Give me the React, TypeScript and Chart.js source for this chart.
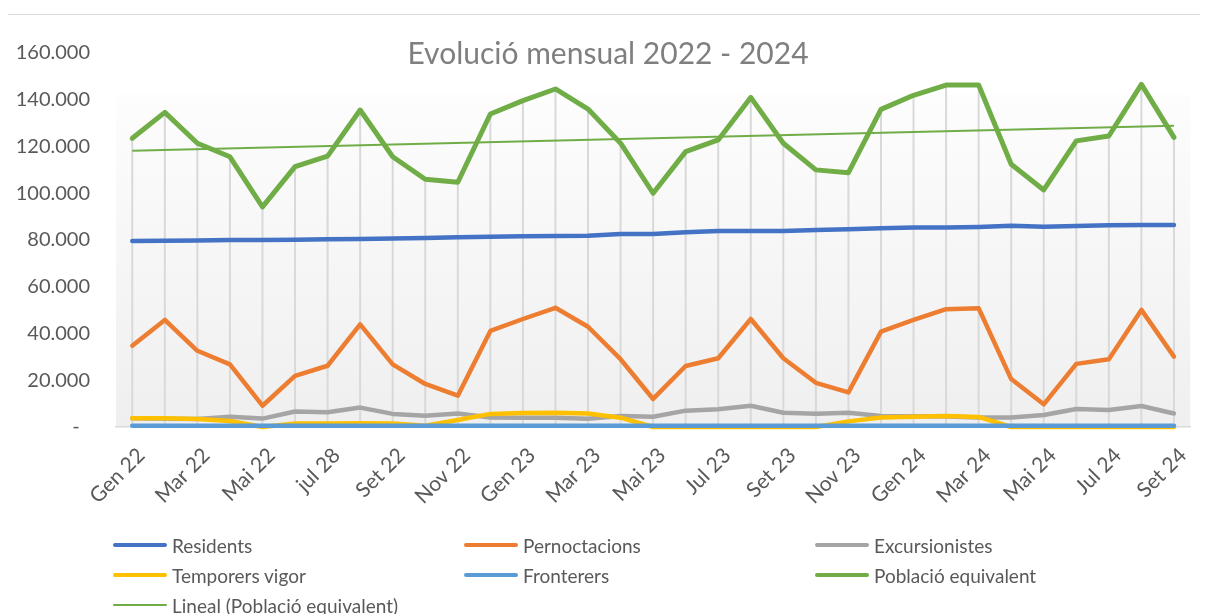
import React, { useEffect, useRef } from "react";
import { Chart, registerables } from "chart.js";

Chart.register(...registerables);

const months = [
  "Gen 22", "Feb 22", "Mar 22", "Abr 22", "Mai 22", "Jun 22", "jul 28", "Ago 22", "Set 22", "Oct 22", "Nov 22", "Des 22",
  "Gen 23", "Feb 23", "Mar 23", "Abr 23", "Mai 23", "Jun 23", "Jul 23", "Ago 23", "Set 23", "Oct 23", "Nov 23", "Des 23",
  "Gen 24", "Feb 24", "Mar 24", "Abr 24", "Mai 24", "Jun 24", "Jul 24", "Ago 24", "Set 24",
];

const residents = [79600, 79700, 79800, 80000, 80000, 80100, 80300, 80400, 80600, 80900, 81200, 81400, 81600, 81700, 81800, 82600, 82600, 83300, 83800, 83800, 83800, 84300, 84600, 85000, 85300, 85400, 85600, 86100, 85700, 86000, 86300, 86400, 86400];
const pernoctacions = [34800, 45800, 32600, 26800, 9100, 21900, 26200, 43900, 26800, 18400, 13400, 41100, 46200, 51000, 42900, 29000, 12000, 26100, 29400, 46200, 29400, 18900, 14800, 40800, 45800, 50400, 50800, 20500, 9700, 27000, 29000, 50100, 30100];
const excursionistes = [3700, 3500, 3400, 4400, 3600, 6600, 6300, 8300, 5600, 4800, 5800, 4100, 4000, 4000, 3500, 4700, 4400, 7000, 7600, 9100, 6100, 5700, 6100, 4700, 4600, 4500, 4100, 4100, 5100, 7700, 7300, 9000, 5800];
const temporers = [3700, 3700, 3400, 2600, 0, 1500, 1500, 1600, 1500, 500, 3000, 5600, 6000, 6100, 5800, 4000, 0, 0, 0, 0, 0, 0, 2400, 4100, 4400, 4700, 4300, 0, 0, 0, 0, 0, 0];
const fronterers = [500, 500, 500, 500, 500, 500, 500, 500, 500, 500, 500, 500, 500, 500, 500, 500, 500, 500, 500, 500, 500, 500, 500, 500, 500, 500, 500, 500, 500, 500, 500, 500, 500];
const poblacio = [123500, 134600, 121400, 115600, 94200, 111400, 115900, 135600, 115600, 106000, 104700, 133900, 139600, 144600, 136000, 121400, 100000, 117800, 122800, 141000, 121400, 110000, 108800, 135900, 141900, 146300, 146300, 112400, 101400, 122400, 124500, 146600, 123900];
const trendStart = 118200;
const trendEnd = 128900;

const yTicks = [0, 20000, 40000, 60000, 80000, 100000, 120000, 140000, 160000];

const seriesNames = [
  "Residents",
  "Pernoctacions",
  "Excursionistes",
  "Temporers vigor",
  "Fronterers",
  "Població equivalent",
  "Lineal (Població equivalent)",
];
const seriesColors = ["#4472C4", "#ED7D31", "#A5A5A5", "#FFC000", "#5B9BD5", "#70AD47", "#70AD47"];

const titleText = "Evolució mensual 2022 - 2024";
const FONT = "Lato, 'Open Sans', sans-serif";

function fmt(v: number): string {
  if (v === 0) return "-  ";
  return String(v).replace(/\B(?=(\d{3})+(?!\d))/g, ".");
}

const W = 1200;
const H = 599;

export default function App() {
  const ref = useRef<HTMLCanvasElement | null>(null);

  useEffect(() => {
    if (!ref.current) return;
    const bgPlugin = {
      id: "bgAndDrop",
      beforeDraw(chart: any) {
        const { ctx, chartArea } = chart;
        const top = chartArea.top + 42;
        const g = ctx.createLinearGradient(0, top, 0, chartArea.bottom);
        g.addColorStop(0, "#fdfdfd");
        g.addColorStop(1, "#efefef");
        ctx.save();
        ctx.fillStyle = g;
        ctx.fillRect(chartArea.left, top, chartArea.right - chartArea.left, chartArea.bottom - top);
        ctx.restore();
      },
      beforeDatasetsDraw(chart: any) {
        const { ctx, chartArea } = chart;
        const meta = chart.getDatasetMeta(5);
        ctx.save();
        ctx.strokeStyle = "#d9d9d9";
        ctx.lineWidth = 2;
        meta.data.forEach((pt: any) => {
          ctx.beginPath();
          ctx.moveTo(pt.x, pt.y);
          ctx.lineTo(pt.x, chartArea.bottom);
          ctx.stroke();
        });
        ctx.restore();
      },
      afterDraw(chart: any) {
        const { ctx } = chart;
        ctx.save();
        ctx.fillStyle = "#7f7f7f";
        ctx.font = `30px ${FONT}`;
        ctx.textAlign = "center";
        ctx.textBaseline = "alphabetic";
        ctx.fillText(titleText, W / 2, 49);
        ctx.restore();
      },
    };

    const series = [residents, pernoctacions, excursionistes, temporers, fronterers, poblacio];
    const datasets: any[] = series.map((d, i) => ({
      label: seriesNames[i],
      data: d,
      borderColor: seriesColors[i],
      backgroundColor: seriesColors[i],
      borderWidth: i === 5 ? 5 : 4.5,
      pointRadius: 0,
      tension: 0,
      borderJoinStyle: "round",
      borderCapStyle: "round",
      clip: false,
      order: 10 - i,
    }));
    datasets.push({
      label: seriesNames[6],
      data: [
        { x: months[0], y: trendStart },
        { x: months[months.length - 1], y: trendEnd },
      ],
      borderColor: seriesColors[6],
      borderWidth: 2,
      pointRadius: 0,
      tension: 0,
      clip: false,
      order: 1,
    });

    const chart = new Chart(ref.current, {
      type: "line",
      data: { labels: months, datasets },
      options: {
        responsive: false,
        animation: false,
        layout: { padding: { left: 0, right: 15, top: 38, bottom: 0 } },
        plugins: {
          legend: { display: false },
          title: { display: false },
          tooltip: { enabled: false },
        },
        scales: {
          x: {
            type: "category",
            offset: true,
            grid: { display: false, drawTicks: false },
            border: { display: true, color: "#d9d9d9", width: 1.5 },
            ticks: {
              autoSkip: false,
              maxRotation: 45,
              minRotation: 45,
              padding: 16,
              labelOffset: 9,
              color: "#595959",
              font: { family: FONT, size: 21 },
              callback: (_v: any, i: number) => (i % 2 === 0 ? months[i] : ""),
            },
            afterFit: (s: any) => {
              s.height = H - 412;
            },
          },
          y: {
            min: 0,
            max: 160000,
            afterBuildTicks: (s: any) => {
              s.ticks = yTicks.map((v) => ({ value: v }));
            },
            grid: { display: false, drawTicks: false },
            border: { display: false },
            ticks: {
              padding: 26,
              color: "#595959",
              font: { family: FONT, size: 20 },
              callback: (v: any) => fmt(Number(v)),
            },
            afterFit: (s: any) => {
              s.width = 108;
            },
          },
        },
      },
      plugins: [bgPlugin],
    } as any);
    return () => chart.destroy();
  }, []);

  const legendRows = [
    [0, 1, 2],
    [3, 4, 5],
    [6],
  ];

  return (
    <div
      style={{
        position: "relative",
        margin: "6px 0 0 -1px",
        width: 1201,
        height: 599,
        borderLeft: "1px solid #d9d9d9",
        borderTop: "1px solid #d9d9d9",
        overflow: "hidden",
        background: "#fff",
      }}
    >
      <canvas ref={ref} width={W} height={H} style={{ display: "block", width: W, height: H }} />
      {legendRows.map((row, r) =>
        row.map((idx, c) => (
          <div
            key={idx}
            style={{
              position: "absolute",
              left: 105 + c * 351,
              top: 515 + r * 30,
              height: 30,
              display: "flex",
              alignItems: "center",
              fontFamily: FONT,
              fontSize: 19,
              color: "#595959",
              whiteSpace: "nowrap",
            }}
          >
            <span
              style={{
                display: "inline-block",
                width: 54,
                height: idx === 6 ? 2 : 4.5,
                borderRadius: 3,
                background: seriesColors[idx],
                marginRight: 5,
              }}
            />
            <span>{seriesNames[idx]}</span>
          </div>
        ))
      )}
    </div>
  );
}
